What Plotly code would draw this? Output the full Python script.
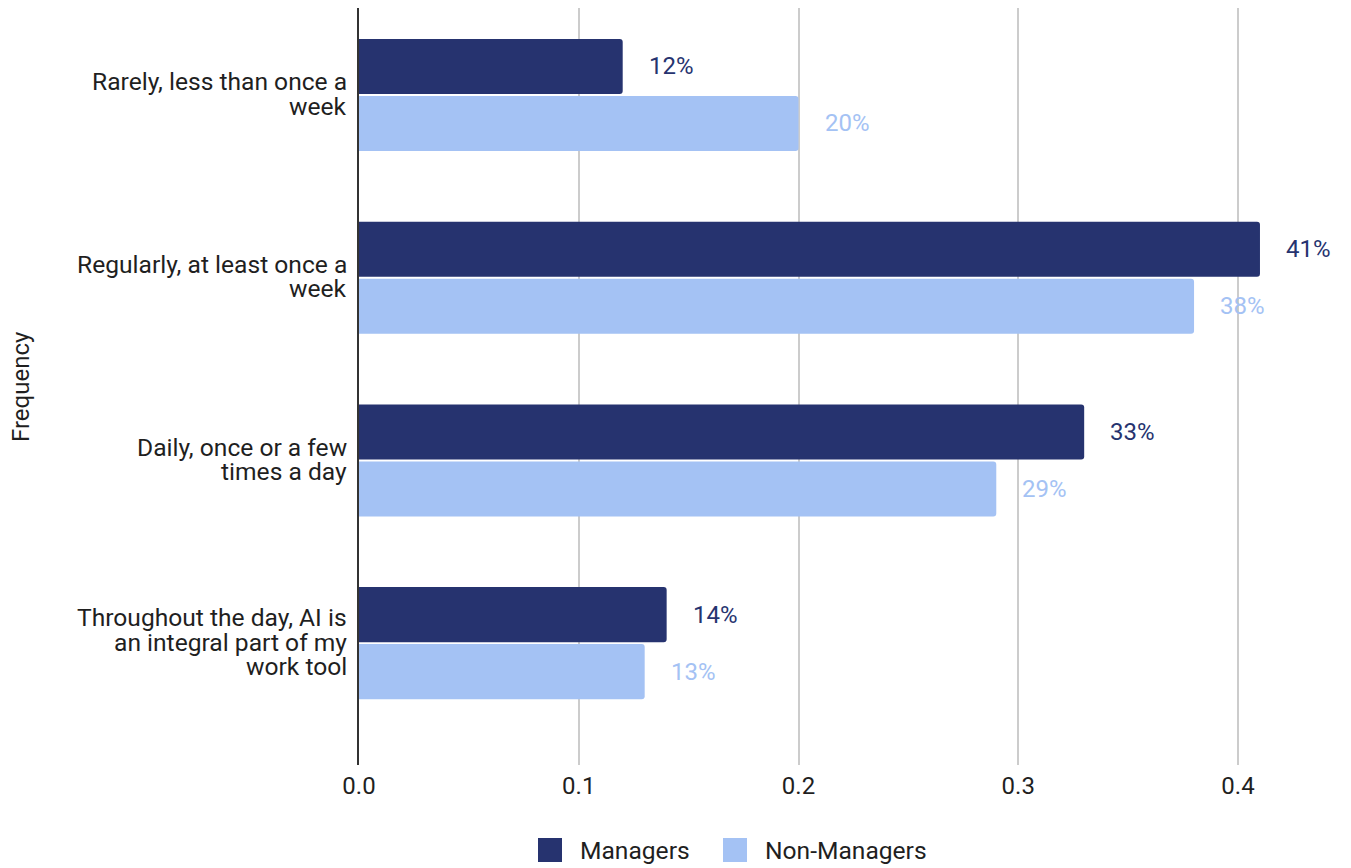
import plotly.graph_objects as go

# Survey data: how often AI is used at work, by role
categories = [
    "Rarely, less than once a<br>week",
    "Regularly, at least once a<br>week",
    "Daily, once or a few<br>times a day",
    "Throughout the day, AI is<br>an integral part of my<br>work tool",
]
managers = [0.12, 0.41, 0.33, 0.14]
non_managers = [0.20, 0.38, 0.29, 0.13]
series_names = ["Managers", "Non-Managers"]
x_ticks = [0.0, 0.1, 0.2, 0.3, 0.4]
x_tick_labels = ["0.0", "0.1", "0.2", "0.3", "0.4"]

DARK = "#26336f"
LIGHT = "#a4c2f4"
TEXT = "#1f1f1f"
FONT = "Roboto, Arial, sans-serif"
FS = 24
FS_LABEL = 24.6
LINE_H = 24.5

W, H = 1351, 868
ML, MR, MT, MB = 359, 10, 8, 103
BARGAP = 0.376
GROUPGAP = 0.035

pos = list(range(len(categories)))
plot_w = W - ML - MR
plot_h = H - MT - MB

fig = go.Figure()
for name, vals, col in [(series_names[0], managers, DARK), (series_names[1], non_managers, LIGHT)]:
    fig.add_trace(go.Bar(
        y=pos, x=vals, orientation="h", name=name,
        marker=dict(color=col, line=dict(width=0), cornerradius=3),
        showlegend=False,
    ))

annotations = []

# value labels to the right of each bar
offset = (1 - BARGAP) / 4
for vals, col, dy in [(managers, DARK, -offset), (non_managers, LIGHT, offset)]:
    for i, v in enumerate(vals):
        annotations.append(dict(
            x=v, y=i + dy, xref="x", yref="y", text=f"{round(v * 100)}%",
            showarrow=False, xanchor="left", yanchor="middle", xshift=24,
            font=dict(family=FONT, size=FS, color=col),
        ))

# category labels, one line per annotation for tight line spacing
for i, label in enumerate(categories):
    lines = label.split("<br>")
    n = len(lines)
    for k, line in enumerate(lines):
        annotations.append(dict(
            x=0, y=i, xref="paper", yref="y", text=line,
            showarrow=False, xanchor="right", yanchor="middle",
            xshift=-10, yshift=-(k - (n - 1) / 2) * LINE_H + 1,
            font=dict(family=FONT, size=FS_LABEL, color=TEXT),
        ))

# axis title
annotations.append(dict(
    x=(21 - ML) / plot_w, y=(MT + plot_h - 387) / plot_h, xref="paper", yref="paper",
    text="Frequency", textangle=-90, showarrow=False,
    xanchor="center", yanchor="middle",
    font=dict(family=FONT, size=FS, color=TEXT),
))

# legend drawn at the bottom
shapes = []
legend_y = (MT + plot_h - 850) / plot_h
legend_items = [(series_names[0], DARK, 538, 578), (series_names[1], LIGHT, 723, 763)]
for name, col, sx, tx in legend_items:
    shapes.append(dict(
        type="rect", xref="paper", yref="paper",
        xsizemode="pixel", ysizemode="pixel",
        xanchor=(sx - ML) / plot_w, yanchor=legend_y,
        x0=0, x1=24, y0=-12, y1=12,
        fillcolor=col, line=dict(width=0), layer="above",
    ))
    annotations.append(dict(
        x=(tx - ML) / plot_w, y=legend_y, xref="paper", yref="paper", text=name,
        showarrow=False, xanchor="left", yanchor="middle",
        font=dict(family=FONT, size=FS_LABEL, color=TEXT),
    ))

fig.update_layout(
    width=W, height=H,
    margin=dict(l=ML, r=MR, t=MT, b=MB),
    paper_bgcolor="white", plot_bgcolor="white",
    barmode="group", bargap=BARGAP, bargroupgap=GROUPGAP,
    font=dict(family=FONT, size=FS, color=TEXT),
    annotations=annotations, shapes=shapes,
    xaxis=dict(
        range=[0, plot_w / 2197.5], tickvals=x_ticks, ticktext=x_tick_labels,
        showgrid=True, gridcolor="#cccccc", gridwidth=1.5,
        zeroline=False, showline=False, ticks="",
        tickfont=dict(family=FONT, size=FS, color=TEXT),
        ticklabelstandoff=4,
    ),
    yaxis=dict(
        range=[3.667, -0.476], tickvals=pos, showticklabels=False,
        showgrid=False, zeroline=False, showline=True,
        linecolor="#333333", linewidth=2, ticks="",
    ),
)

fig.write_html("out.html")
